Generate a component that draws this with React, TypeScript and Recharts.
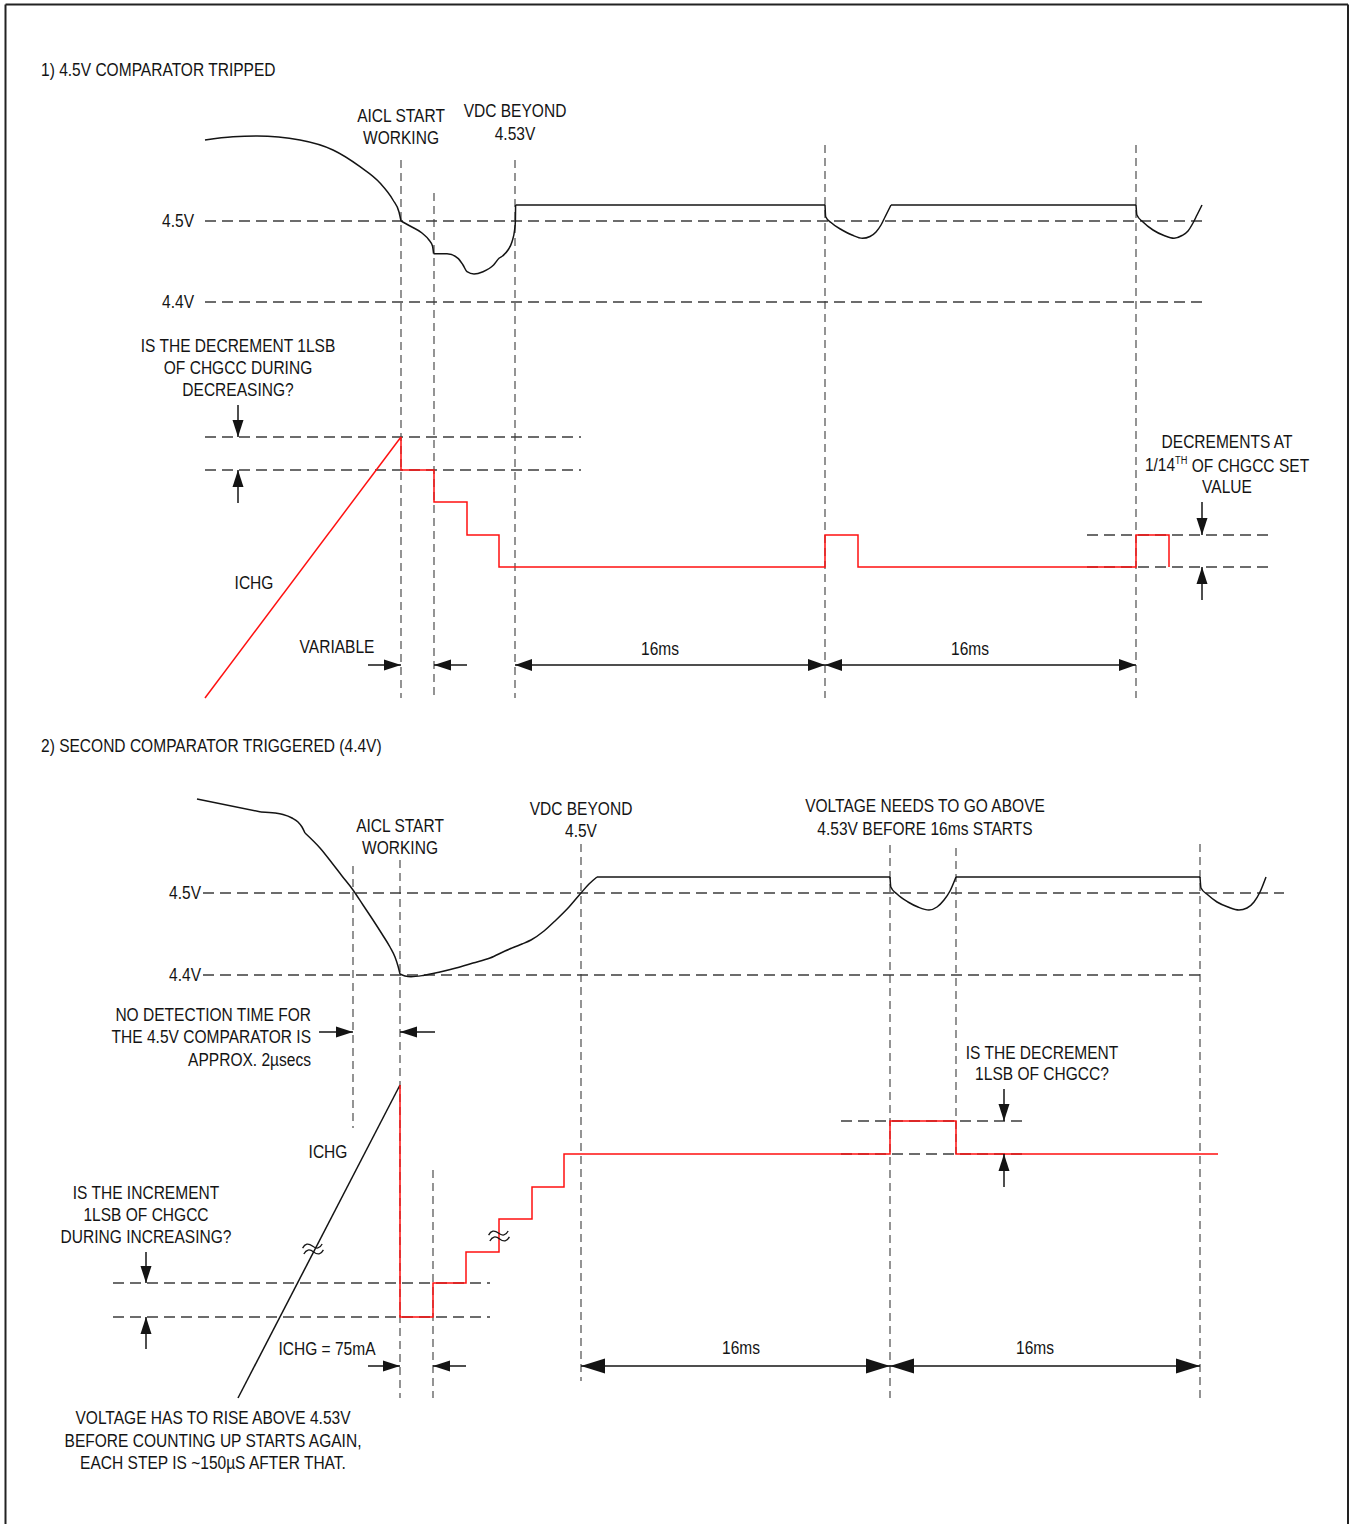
import React from 'react';
import { ComposedChart, Line, XAxis, YAxis, ReferenceLine, ReferenceDot } from 'recharts';

// Diagram units: x = time axis of the timing diagram, y = signal level (top = 0)
const CANVAS_W = 1351;
const CANVAS_H = 1524;

// ---------------- Panel 1 : 4.5V comparator tripped ----------------
const p1VdcFall = [[205, 140], [233, 136.7], [257, 136], [300, 140], [333, 150], [360, 166.7], [380, 183], [393, 200], [399, 212], [401, 221]];
const p1VdcStep = [[401, 221], [411, 226.5], [422, 233], [429, 240], [432.5, 246], [433.6, 253.7]];
const p1VdcRecover = [[433.6, 253.7], [447, 253.7], [458, 258.3], [463, 265], [467, 271.7], [474, 274], [483, 271.7], [493.6, 265], [499, 258.3], [502.5, 256], [508, 250], [512, 241.7], [514.6, 230], [515.4, 221], [515.6, 205]];
const p1VdcHigh1 = [[515.6, 205], [825, 205]];
const p1VdcDip1 = [[825, 205], [825.7, 216.7], [831, 222.5], [842, 230], [852, 235], [862.5, 238.3], [870, 236.5], [876, 232], [881, 225], [885, 217], [891, 205]];
const p1VdcHigh2 = [[891, 205], [1136, 205]];
const p1VdcDip2 = [[1136, 205], [1136.9, 215], [1143, 222], [1153, 230], [1164, 235.5], [1174, 238.3], [1182, 235.5], [1188, 231], [1193, 223], [1197, 215], [1202, 205]];
const p1IchgRamp = [[205, 698], [401, 437]];
const p1IchgSteps = [[401, 437], [401, 470], [434, 470], [434, 502], [467, 502], [467, 535], [499, 535], [499, 567], [825, 567], [825, 535], [858, 535], [858, 567], [1136, 567], [1136, 535], [1169, 535], [1169, 567]];
// horizontal guides: [level, from, to]
const p1GuidesH = [[221, 205, 1202], [302, 205, 1202], [437, 205, 581], [470, 205, 581], [535, 1087, 1268], [567, 1087, 1268]];
// vertical guides: [time, from, to]
const p1GuidesV = [[401, 160, 698], [434, 193, 698], [515, 160, 698], [825, 145, 698], [1136, 145, 698]];

// ---------------- Panel 2 : second comparator triggered ----------------
const p2VdcStart = [[197, 799], [261, 812]];
const p2VdcBump = [[261, 812], [275, 813], [283, 814.5], [292, 818], [298, 822], [302, 827], [305, 833]];
const p2VdcFall = [[305, 833], [320, 848], [332, 863], [342, 876], [353, 890], [363, 905], [373, 920], [382, 934], [390, 947], [395, 957], [398, 966], [400, 974]];
const p2VdcRise1 = [[400, 974], [405, 976], [411, 976.7], [423, 975.5], [440, 972], [456, 968], [473, 963], [490, 958], [505, 951], [512, 948]];
const p2VdcRise2 = [[512, 948], [522, 944], [531, 940], [544, 931], [556, 920], [569, 907], [581, 893], [589, 884], [597, 877]];
const p2VdcHigh1 = [[597, 877], [890, 877]];
const p2VdcDip1 = [[890, 877], [890.8, 887], [897, 894], [908, 902], [918, 907], [929, 910], [937, 907], [944, 900], [950, 891], [956, 877]];
const p2VdcHigh2 = [[956, 877], [1200, 877]];
const p2VdcDip2 = [[1200, 877], [1201, 888], [1208, 895], [1217, 902], [1228, 907], [1239, 910], [1247, 908], [1254, 902], [1260, 892], [1266, 877]];
const p2IchgRamp = [[238, 1398], [400, 1085]];
const p2IchgSteps = [[400, 1085], [400, 1317], [433, 1317], [433, 1283], [466, 1283], [466, 1252], [499, 1252], [499, 1219], [532, 1219], [532, 1187], [564, 1187], [564, 1154], [890, 1154], [890, 1121], [956, 1121], [956, 1154], [1218, 1154]];
const p2GuidesH = [[893, 203, 1284], [975, 203, 1200], [1283, 113, 490], [1317, 113, 490], [1121, 841, 1022], [1154, 841, 1022]];
const p2GuidesV = [[353, 866, 1128], [400, 860, 1398], [433, 1170, 1398], [581, 844, 1381], [890, 845, 1398], [956, 848, 1154], [1200, 844, 1398]];
const p2Breaks = [[313, 1249], [499, 1236]];

// arrows: [tailX, tailY, tipX, tipY]
const smallArrows = [
  [238, 405, 238, 437], [238, 503, 238, 470], [1202, 502, 1202, 535], [1202, 600, 1202, 567],
  [368, 665, 401, 665], [467, 665, 434, 665],
  [146, 1252, 146, 1283], [146, 1349, 146, 1317],
  [319, 1032, 353, 1032], [435, 1032, 400, 1032],
  [368, 1366, 400, 1366], [466, 1366, 433, 1366],
  [1004, 1089, 1004, 1121], [1004, 1187, 1004, 1154],
];
// double arrows: [fromX, toX, y]
const spanArrowsSmall = [[515, 825, 665], [825, 1136, 665]];
const spanArrowsLarge = [[581, 890, 1366], [890, 1200, 1366]];

// text labels: [text, x, y, anchor]
const labels: [string, number, number, string][] = [
  ['1) 4.5V COMPARATOR TRIPPED', 41, 70, 'start'],
  ['AICL START', 401, 116, 'middle'], ['WORKING', 401, 138.5, 'middle'],
  ['VDC BEYOND', 515, 111.5, 'middle'], ['4.53V', 515, 134.5, 'middle'],
  ['4.5V', 194, 221, 'end'], ['4.4V', 194, 302, 'end'],
  ['IS THE DECREMENT 1LSB', 238, 346, 'middle'], ['OF CHGCC DURING', 238, 368, 'middle'], ['DECREASING?', 238, 390.5, 'middle'],
  ['ICHG', 254, 583, 'middle'],
  ['VARIABLE', 337, 647, 'middle'],
  ['16ms', 660, 649, 'middle'], ['16ms', 970, 649, 'middle'],
  ['DECREMENTS AT', 1227, 442.5, 'middle'], ['VALUE', 1227, 487.5, 'middle'],
  ['2) SECOND COMPARATOR TRIGGERED (4.4V)', 41, 746, 'start'],
  ['AICL START', 400, 826.5, 'middle'], ['WORKING', 400, 848.5, 'middle'],
  ['VDC BEYOND', 581, 809, 'middle'], ['4.5V', 581, 831.5, 'middle'],
  ['VOLTAGE NEEDS TO GO ABOVE', 925, 806.5, 'middle'], ['4.53V BEFORE 16ms STARTS', 925, 829, 'middle'],
  ['4.5V', 201, 893, 'end'], ['4.4V', 201, 975, 'end'],
  ['NO DETECTION TIME FOR', 311, 1015, 'end'], ['THE 4.5V COMPARATOR IS', 311, 1037, 'end'], ['APPROX. 2µsecs', 311, 1060, 'end'],
  ['IS THE DECREMENT', 1042, 1053, 'middle'], ['1LSB OF CHGCC?', 1042, 1074.5, 'middle'],
  ['ICHG', 328, 1152.5, 'middle'],
  ['IS THE INCREMENT', 146, 1193.5, 'middle'], ['1LSB OF CHGCC', 146, 1215, 'middle'], ['DURING INCREASING?', 146, 1237, 'middle'],
  ['ICHG = 75mA', 327, 1349.5, 'middle'],
  ['16ms', 741, 1348.5, 'middle'], ['16ms', 1035, 1348.5, 'middle'],
  ['VOLTAGE HAS TO RISE ABOVE 4.53V', 213, 1418.5, 'middle'],
  ['BEFORE COUNTING UP STARTS AGAIN,', 213, 1441, 'middle'],
  ['EACH STEP IS ~150µS AFTER THAT.', 213, 1463.5, 'middle'],
];
const superLabel = { pre: '1/14', sup: 'TH', post: ' OF CHGCC SET', x: 1227, y: 465.5 };

const FONT = "'Liberation Sans', Arial, sans-serif";
const FS = 18.5;
const NARROW = 0.84;
const INK = '#141414';
const GUIDE = '#3c3c3c';
const RED = '#ff1010';

const toPts = (a: number[][]) => a.map(([x, y]) => ({ x, y }));

const textShape = (t: string, anchor: string) => (props: any) => (
  <g transform={`translate(${props.cx} ${props.cy}) scale(${NARROW} 1)`}>
    <text x={0} y={0} textAnchor={anchor} dominantBaseline="central"
      fontFamily={FONT} fontSize={FS} fill={INK}>{t}</text>
  </g>
);

const headShape = (dx: number, dy: number, len: number, half: number) => (props: any) => {
  const { cx, cy } = props;
  const bx = cx - dx * len, by = cy - dy * len;
  const px = -dy * half, py = dx * half;
  return <polygon points={`${cx},${cy} ${bx + px},${by + py} ${bx - px},${by - py}`} fill={INK} />;
};

const breakShape = (props: any) => {
  const { cx, cy } = props;
  const d = (o: number) => `M${cx - 10},${cy + o} q5,-6 10,0 t10,0`;
  return (
    <g transform={`rotate(-12 ${cx} ${cy})`}>
      <path d={d(-3)} fill="none" stroke={INK} strokeWidth={1.3} />
      <path d={d(3)} fill="none" stroke={INK} strokeWidth={1.3} />
    </g>
  );
};

export default function App() {
  const series = (arr: number[][], color: string, type: any, key: string) => (
    <Line key={key} data={toPts(arr)} dataKey="y" type={type} stroke={color} strokeWidth={1.5}
      dot={false} activeDot={false} isAnimationActive={false} legendType="none" />
  );
  const hGuides = [...p1GuidesH, ...p2GuidesH];
  const vGuides = [...p1GuidesV, ...p2GuidesV];
  const items: any[] = [];

  hGuides.forEach(([y, x1, x2], i) => items.push(
    <ReferenceLine key={`gh${i}`} segment={[{ x: x1, y }, { x: x2, y }]} stroke={GUIDE} strokeWidth={1.5}
      strokeDasharray="11 6" ifOverflow="visible" />));
  vGuides.forEach(([x, y1, y2], i) => items.push(
    <ReferenceLine key={`gv${i}`} segment={[{ x, y: y1 }, { x, y: y2 }]} stroke={GUIDE} strokeWidth={1.1}
      strokeDasharray="8 5" ifOverflow="visible" />));

  // frame
  items.push(<ReferenceLine key="b1" segment={[{ x: 5.5, y: 4.5 }, { x: 5.5, y: 1524 }]} stroke="#222" strokeWidth={2} ifOverflow="visible" />);
  items.push(<ReferenceLine key="b2" segment={[{ x: 5.5, y: 4.5 }, { x: 1348, y: 4.5 }]} stroke="#222" strokeWidth={2} ifOverflow="visible" />);
  items.push(<ReferenceLine key="b3" segment={[{ x: 1348, y: 4.5 }, { x: 1348, y: 1524 }]} stroke="#222" strokeWidth={2} ifOverflow="visible" />);

  const lines = [
    series(p1VdcFall, INK, 'monotone', 'a1'), series(p1VdcStep, INK, 'monotone', 'a2'),
    series(p1VdcRecover, INK, 'monotone', 'a3'), series(p1VdcHigh1, INK, 'linear', 'a4'),
    series(p1VdcDip1, INK, 'monotone', 'a5'), series(p1VdcHigh2, INK, 'linear', 'a6'),
    series(p1VdcDip2, INK, 'monotone', 'a7'),
    series(p1IchgRamp, RED, 'linear', 'a8'), series(p1IchgSteps, RED, 'linear', 'a9'),
    series(p2VdcStart, INK, 'linear', 'b1'), series(p2VdcBump, INK, 'monotone', 'b2'),
    series(p2VdcFall, INK, 'monotone', 'b3'), series(p2VdcRise1, INK, 'monotone', 'b4'),
    series(p2VdcRise2, INK, 'monotone', 'b5'), series(p2VdcHigh1, INK, 'linear', 'b6'),
    series(p2VdcDip1, INK, 'monotone', 'b7'), series(p2VdcHigh2, INK, 'linear', 'b8'),
    series(p2VdcDip2, INK, 'monotone', 'b9'),
    series(p2IchgRamp, INK, 'linear', 'b10'), series(p2IchgSteps, RED, 'linear', 'b11'),
  ];

  const marks: any[] = [];
  smallArrows.forEach(([x1, y1, x2, y2], i) => {
    const L = Math.hypot(x2 - x1, y2 - y1);
    const dx = (x2 - x1) / L, dy = (y2 - y1) / L;
    marks.push(<ReferenceLine key={`as${i}`} segment={[{ x: x1, y: y1 }, { x: x2, y: y2 }]} stroke={INK} strokeWidth={1.5} ifOverflow="visible" />);
    marks.push(<ReferenceDot key={`ah${i}`} x={x2} y={y2} r={1} ifOverflow="visible" shape={headShape(dx, dy, 17, 5.5)} />);
  });
  const spans = (list: number[][], len: number, half: number, tag: string) => list.forEach(([a, b, y], i) => {
    marks.push(<ReferenceLine key={`${tag}s${i}`} segment={[{ x: a, y }, { x: b, y }]} stroke={INK} strokeWidth={1.6} ifOverflow="visible" />);
    marks.push(<ReferenceDot key={`${tag}l${i}`} x={a} y={y} r={1} ifOverflow="visible" shape={headShape(-1, 0, len, half)} />);
    marks.push(<ReferenceDot key={`${tag}r${i}`} x={b} y={y} r={1} ifOverflow="visible" shape={headShape(1, 0, len, half)} />);
  });
  spans(spanArrowsSmall, 17, 6, 'sp');
  spans(spanArrowsLarge, 24, 7.5, 'sl');

  p2Breaks.forEach(([x, y], i) => marks.push(
    <ReferenceDot key={`br${i}`} x={x} y={y} r={1} ifOverflow="visible" shape={breakShape} />));

  labels.forEach(([t, x, y, anchor], i) => marks.push(
    <ReferenceDot key={`tx${i}`} x={x} y={y} r={1} ifOverflow="visible" shape={textShape(t, anchor)} />));
  marks.push(
    <ReferenceDot key="sup" x={superLabel.x} y={superLabel.y} r={1} ifOverflow="visible"
      shape={(p: any) => (
        <g transform={`translate(${p.cx} ${p.cy}) scale(${NARROW} 1)`}>
          <text x={0} y={0} textAnchor="middle" dominantBaseline="central" fontFamily={FONT} fontSize={FS} fill={INK}>
            {superLabel.pre}
            <tspan fontSize={11} dy={-6}>{superLabel.sup}</tspan>
            <tspan dy={6}>{superLabel.post}</tspan>
          </text>
        </g>
      )} />);

  return (
    <div style={{ position: 'absolute', left: 0, top: 0, width: CANVAS_W, height: CANVAS_H, overflow: 'hidden', background: '#fff' }}>
      <ComposedChart width={CANVAS_W} height={CANVAS_H} margin={{ top: 0, right: 0, bottom: 0, left: 0 }}>
        <XAxis type="number" dataKey="x" domain={[0, CANVAS_W]} hide allowDataOverflow />
        <YAxis type="number" dataKey="y" domain={[0, CANVAS_H]} reversed hide allowDataOverflow width={0} />
        {items}
        {lines}
        {marks}
      </ComposedChart>
    </div>
  );
}
